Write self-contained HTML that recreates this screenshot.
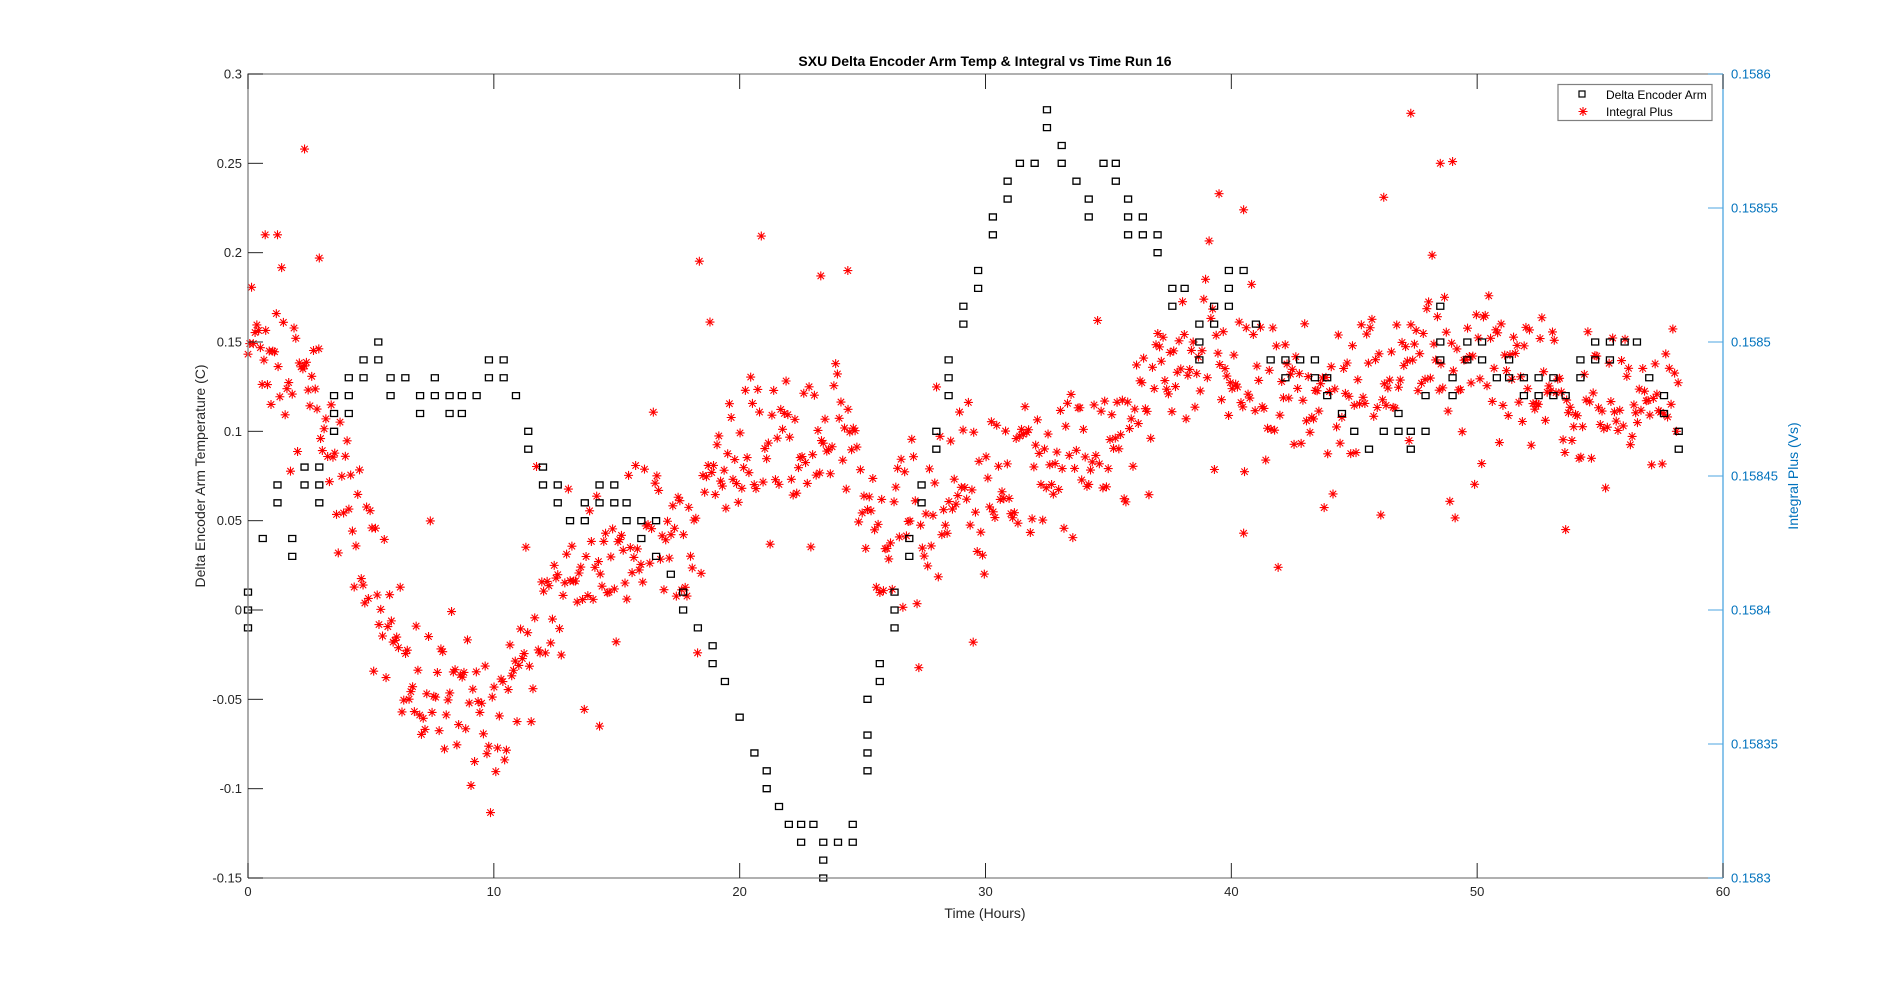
<!DOCTYPE html>
<html><head><meta charset="utf-8"><style>
html,body{margin:0;padding:0;background:#fff;}
svg{display:block;font-family:"Liberation Sans",Arial,sans-serif;}
</style></head><body>
<svg id="s" width="1904" height="987" xmlns="http://www.w3.org/2000/svg">
<rect width="1904" height="987" fill="#fff"/>
<g id="data"></g>
<g id="axes"></g>
</svg>
<script>
const L=248,R=1723,T=74,B=878;
const X=t=>L+(t/60)*(R-L);
const Y=v=>B-((v+0.15)/0.45)*(B-T);
let dataHtml="", ax="";
let seed=12345;function rnd(){seed=(seed*1103515245+12345)%2147483648;return seed/2147483648;}
function gauss(){let u=rnd()||1e-9,v=rnd();return Math.sqrt(-2*Math.log(u))*Math.cos(2*Math.PI*v);}
const m=[0.15,0.15,0.13,0.11,0.06,0.02,-0.02,-0.04,-0.05,-0.06,-0.06,-0.03,0.0,0.02,0.03,0.03,0.04,0.05,0.06,0.07,0.08,0.09,0.09,0.1,0.1,0.06,0.05,0.05,0.05,0.06,0.06,0.07,0.08,0.08,0.09,0.09,0.1,0.12,0.14,0.14,0.13,0.13,0.12,0.12,0.12,0.12,0.13,0.14,0.14,0.14,0.14,0.13,0.12,0.12,0.11,0.11,0.11,0.11,0.12];
function mean(t){let i=Math.min(57,Math.floor(t)),f=t-i;return m[i]*(1-f)+m[i+1]*f;}
let stars="";
function star(x,y){const r=4.5,d=3.2;return `M${x-r} ${y}h${2*r}M${x} ${y-r}v${2*r}M${x-d} ${y-d}l${2*d} ${2*d}M${x-d} ${y+d}l${2*d} ${-2*d}`;}
for(let t=0;t<=58.2;t+=0.072){
  let v=mean(t)+gauss()*0.022; if(rnd()<0.025)v+=gauss()*0.05;
  stars+=star(X(t),Y(v));
}
[[2.3,0.258],[0.7,0.21],[1.2,0.21],[2.9,0.197],[47.3,0.278],[48.5,0.25],[49,0.251],[46.2,0.231],[39.5,0.233],[40.5,0.224],[23.3,0.187],[24.4,0.19],[53.6,0.045],[40.5,0.043],[29.5,-0.018],[14.3,-0.065]].forEach(([t,v])=>{stars+=star(X(t),Y(v));});
dataHtml+=`<path d="${stars}" stroke="#ff0000" stroke-width="1.1" fill="none"/>`;
const sq=[[0,[0,-0.01,0.01]],[0.6,[0.04]],[1.2,[0.06,0.07]],[1.8,[0.04,0.03]],[2.3,[0.07,0.08]],[2.9,[0.06,0.07,0.08]],[3.5,[0.1,0.11,0.12]],[4.1,[0.11,0.12,0.13]],[4.7,[0.13,0.14]],[5.3,[0.14,0.15]],[5.8,[0.13,0.12]],[6.4,[0.13]],[7,[0.12,0.11]],[7.6,[0.12,0.13]],[8.2,[0.12,0.11]],[8.7,[0.12,0.11]],[9.3,[0.12]],[9.8,[0.14,0.13]],[10.4,[0.14,0.13]],[10.9,[0.12]],[11.4,[0.1,0.09]],[12,[0.08,0.07]],[12.6,[0.07,0.06]],[13.1,[0.05]],[13.7,[0.06,0.05]],[14.3,[0.07,0.06]],[14.9,[0.07,0.06]],[15.4,[0.06,0.05]],[16,[0.05,0.04]],[16.6,[0.05,0.03]],[17.2,[0.02]],[17.7,[0.01,0]],[18.3,[-0.01]],[18.9,[-0.02,-0.03]],[19.4,[-0.04]],[20,[-0.06]],[20.6,[-0.08]],[21.1,[-0.09,-0.1]],[21.6,[-0.11]],[22,[-0.12]],[22.5,[-0.12,-0.13]],[23,[-0.12]],[23.4,[-0.13,-0.14,-0.15]],[24,[-0.13]],[24.6,[-0.13,-0.12]],[25.2,[-0.09,-0.08,-0.07,-0.05]],[25.7,[-0.04,-0.03]],[26.3,[-0.01,0,0.01]],[26.9,[0.03,0.04]],[27.4,[0.06,0.07]],[28,[0.09,0.1]],[28.5,[0.12,0.13,0.14]],[29.1,[0.16,0.17]],[29.7,[0.18,0.19]],[30.3,[0.21,0.22]],[30.9,[0.23,0.24]],[31.4,[0.25]],[32,[0.25]],[32.5,[0.28,0.27]],[33.1,[0.26,0.25]],[33.7,[0.24]],[34.2,[0.23,0.22]],[34.8,[0.25]],[35.3,[0.25,0.24]],[35.8,[0.23,0.22,0.21]],[36.4,[0.21,0.22]],[37,[0.2,0.21]],[37.6,[0.18,0.17]],[38.1,[0.18]],[38.7,[0.16,0.15,0.14]],[39.3,[0.17,0.16]],[39.9,[0.19,0.18,0.17]],[40.5,[0.19]],[41,[0.16]],[41.6,[0.14]],[42.2,[0.14,0.13]],[42.8,[0.14]],[43.4,[0.13,0.14]],[43.9,[0.13,0.12]],[44.5,[0.11]],[45,[0.1]],[45.6,[0.09]],[46.2,[0.1]],[46.8,[0.1,0.11]],[47.3,[0.09,0.1]],[47.9,[0.1,0.12]],[48.5,[0.17,0.15,0.14]],[49,[0.13,0.12]],[49.6,[0.15,0.14]],[50.2,[0.15,0.14]],[50.8,[0.13]],[51.3,[0.13,0.14]],[51.9,[0.13,0.12]],[52.5,[0.13,0.12]],[53.1,[0.12,0.13]],[53.6,[0.12]],[54.2,[0.13,0.14]],[54.8,[0.14,0.15]],[55.4,[0.15,0.14]],[56,[0.15]],[56.5,[0.15]],[57,[0.13]],[57.6,[0.12,0.11]],[58.2,[0.1,0.09]]];
let sqs="";
sq.forEach(([t,vs])=>vs.forEach(v=>{const x=X(t),y=Y(v);sqs+=`M${x-3.5} ${y-3}h7v6h-7z`;}));
dataHtml+=`<path d="${sqs}" stroke="#000" stroke-width="1.3" fill="none"/>`;
document.getElementById("data").innerHTML=dataHtml;
ax+=`<path d="M${L} ${B}V${T}H${R}M${L} ${B}H${R}" stroke="#808080" stroke-width="1.3" fill="none"/>`;
ax+=`<path d="M${R} ${T}V${B}" stroke="#4da6e0" stroke-width="1.3"/>`;
for(let i=0;i<=6;i++){const x=X(i*10);ax+=`<path d="M${x} ${B}v-15M${x} ${T}v15" stroke="#262626"/>`;
 ax+=`<text x="${x}" y="${B+18}" font-size="13" text-anchor="middle" fill="#262626">${i*10}</text>`;}
const lt=["-0.15","-0.1","-0.05","0","0.05","0.1","0.15","0.2","0.25","0.3"];
lt.forEach((s,i)=>{const y=B-i*(B-T)/9;ax+=`<path d="M${L} ${y}h15" stroke="#262626"/>`;ax+=`<text x="${L-6}" y="${y+4.5}" font-size="13" text-anchor="end" fill="#262626">${s}</text>`;});
const rt=["0.1583","0.15835","0.1584","0.15845","0.1585","0.15855","0.1586"];
rt.forEach((s,i)=>{const y=B-i*(B-T)/6;ax+=`<path d="M${R} ${y}h-15" stroke="#4da6e0"/>`;ax+=`<text x="${R+8}" y="${y+4.5}" font-size="13" fill="#0072bd">${s}</text>`;});
ax+=`<text x="985" y="66" font-size="14" font-weight="bold" text-anchor="middle" fill="#000">SXU Delta Encoder Arm Temp &amp; Integral vs Time Run 16</text>`;
ax+=`<text x="985" y="918" font-size="14" text-anchor="middle" fill="#262626">Time (Hours)</text>`;
ax+=`<text transform="translate(205 476) rotate(-90)" font-size="14" text-anchor="middle" fill="#262626">Delta Encoder Arm Temperature (C)</text>`;
ax+=`<text transform="translate(1798 476) rotate(-90)" font-size="14" text-anchor="middle" fill="#0072bd">Integral Plus (Vs)</text>`;
ax+=`<rect x="1558" y="84.5" width="154" height="36" fill="#fff" stroke="#808080" stroke-width="1.2"/>`;
ax+=`<rect x="1579" y="91" width="6" height="6" fill="none" stroke="#000" stroke-width="1.2"/>`;
ax+=`<text x="1606" y="99" font-size="12" fill="#000">Delta Encoder Arm</text>`;
ax+=`<path d="${star(1583,111.5)}" stroke="#f00" stroke-width="1.1"/>`;
ax+=`<text x="1606" y="116" font-size="12" fill="#000">Integral Plus</text>`;
document.getElementById("axes").innerHTML=ax;
</script>
</body></html>
